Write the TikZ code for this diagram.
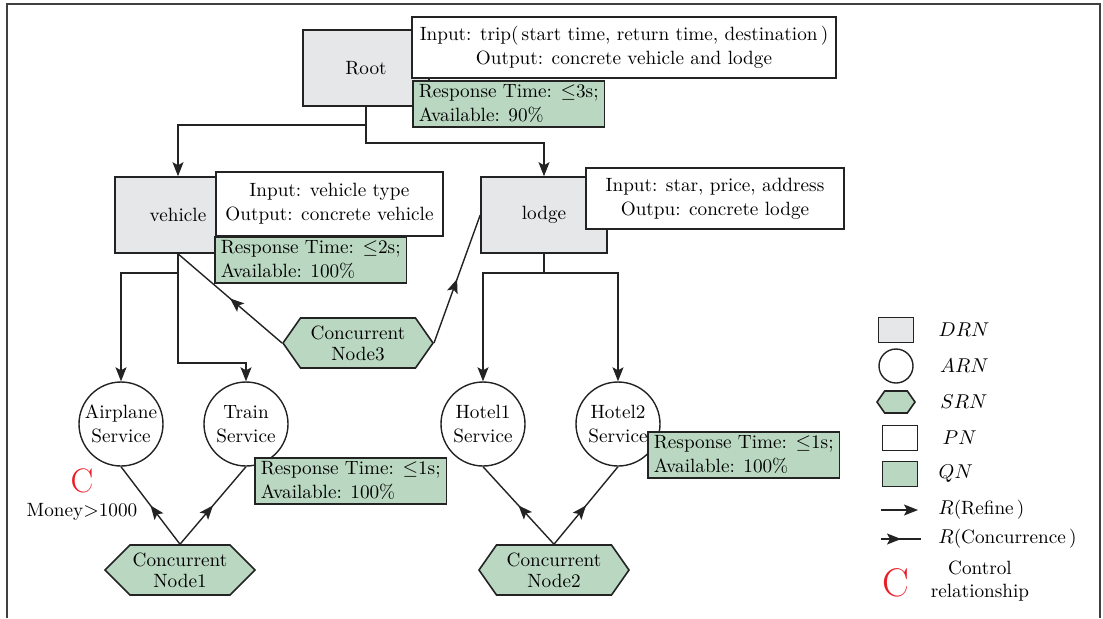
\documentclass[tikz,border=0pt]{standalone}
\usepackage{tikz}
\usetikzlibrary{calc, positioning, shapes.symbols, arrows.meta, decorations.markings}
\usepackage{amsmath}
\usepackage{amssymb}
\definecolor{drngray}{RGB}{230,231,233}
\definecolor{qngreen}{RGB}{186,216,193}
\definecolor{ctrlred}{RGB}{235,30,40}
\definecolor{edge}{RGB}{35,35,35}
\tikzstyle{drn}    = [rectangle, minimum width=63pt, minimum height=38pt, inner sep=0pt, draw=edge, fill=drngray, line width=0.8pt]
\tikzstyle{arn}    = [circle, minimum size=42pt, inner sep=0pt, draw=edge, fill=white, line width=0.7pt, align=center]
\tikzstyle{srn}    = [signal, signal to=west and east, signal pointer angle=110, minimum width=75pt, minimum height=25pt, inner sep=0pt, draw=edge, fill=qngreen, line width=0.8pt, align=center, font=\fontsize{9.6}{10.5}\selectfont]
\tikzstyle{pn}     = [rectangle, inner sep=0pt, draw=edge, fill=white, line width=0.8pt, align=center]
\tikzstyle{qn}     = [rectangle, inner xsep=3pt, inner ysep=2pt, draw=edge, fill=qngreen, line width=0.8pt, align=left, anchor=north west]
\tikzstyle{ctrl}   = [inner sep=0pt, text=ctrlred]
\tikzstyle{lgtext} = [inner sep=0pt]
\tikzstyle{arrow}  = [line width=0.7pt, draw=edge, -{Stealth[length=7pt, width=5.5pt, inset=1.5pt]}]
\tikzstyle{conc}   = [line width=0.7pt, draw=edge, postaction={decorate}, decoration={markings, mark=at position .5 with {\arrow{Stealth[length=7pt, width=5.5pt, inset=1.5pt]}}}]

\begin{document}
\begin{tikzpicture}[x=0.5pt, y=-0.5pt, node distance=18pt, every node/.append style={font=\fontsize{9.6}{12}\selectfont}]
      \useasboundingbox (0,0) rectangle (1103,618);
      \draw [line width=1.1pt, black!75] (7,618) -- (7,4) -- (1100,4) -- (1100,618);

      % decomposition nodes
      \node (root)    [drn] at (366,68)  {Root};
      \node (vehicle) [drn] at (178,215) {vehicle};
      \node (lodge)   [drn] at (544,215) {lodge};

      % atomic nodes
      \node (air)    [arn] at (121,424) {Airplane\\Service};
      \node (train)  [arn] at (246,424) {Train\\Service};
      \node (hotel1) [arn] at (483,424) {Hotel1\\Service};
      \node (hotel2) [arn] at (618,424) {Hotel2\\Service};

      % concurrent nodes
      \node (node1) [srn, signal pointer angle=90] at (180,570) {Concurrent\\Node1};
      \node (node2) [srn] at (554,570) {Concurrent\\Node2};
      \node (node3) [srn] at (358,343) {Concurrent\\Node3};

      \draw [arrow] (root.south) -- ++(0,18) -| (vehicle.north);
      \draw [arrow] (root.south) -- ++(0,36) -| (lodge.north);
      \draw [arrow] (vehicle.south) -- ++(0,19) -| (air.north);
      \draw [arrow] (vehicle.south) -- ++(0,109) -| (train.north);
      \draw [arrow] (lodge.south) -- ++(0,19) -| (hotel1.north);
      \draw [arrow] (lodge.south) -- ++(0,19) -| (hotel2.north);

      \draw [conc] (node3.west) -- (vehicle.south);
      \draw [conc] (node3.east) -- (lodge.west);
      \draw [conc] (node1.north) -- (air.south);
      \draw [conc] (node1.north) -- (train.south);
      \draw [conc] (node2.north) -- (hotel1.south);
      \draw [conc] (node2.north) -- (hotel2.south);

      % parameters and QoS
      \node (rootpn)    [pn, minimum width=212pt, minimum height=30.5pt] at (624,47.5)
            {Input: trip(\,start time, return time, destination\,)\\Output: concrete vehicle and lodge};
      \node (vehiclepn) [pn, minimum width=113.5pt, minimum height=32pt] at (329.5,204)
            {Input: vehicle type\\Output: concrete vehicle};
      \node (lodgepn)   [pn, minimum width=129pt, minimum height=30.5pt] at (715,198.5)
            {Input: star, price, address\\Outpu: concrete lodge};
      \node (rootqn)    [qn] at (412,80)  {Response Time: $\leq$3s;\\Available: 90\%};
      \node (vehicleqn) [qn] at (214,236) {Response Time: $\leq$2s;\\Available: 100\%};
      \node (trainqn)   [qn] at (254,457) {Response Time: $\leq$1s;\\Available: 100\%};
      \node (hotel2qn)  [qn] at (647,431) {Response Time: $\leq$1s;\\Available: 100\%};

      % control relationship
      \node (ctrlc) [ctrl, font=\fontsize{17}{17}\selectfont] at (82,481) {C};
      \node (money) [lgtext] at (82,512) {Money$>$1000};

      % legend
      \node (lgdrn) [drn, minimum width=17.5pt, minimum height=12.5pt] at (896,330) {};
      \node (lgarn) [arn, minimum size=17pt, below of=lgdrn] {};
      \node (lgsrn) [srn, minimum width=19pt, minimum height=11pt, below of=lgarn] {};
      \node (lgpn)  [pn, minimum width=17.5pt, minimum height=12.5pt, below of=lgsrn, xshift=2pt] {};
      \node (lgqn)  [qn, anchor=center, inner sep=0pt, minimum width=17.5pt, minimum height=12.5pt, below of=lgpn] {};
      \node (tdrn)  [lgtext, right=12pt of lgdrn] {$DRN$};
      \node (tarn)  [lgtext, right=13pt of lgarn] {$ARN$};
      \node (tsrn)  [lgtext, right=12pt of lgsrn] {$SRN$};
      \node (tpn)   [lgtext, right=12pt of lgpn]  {$PN$};
      \node (tqn)   [lgtext, right=10pt of lgqn]  {$QN$};

      \coordinate (rfa) at (881,510);
      \coordinate (rfb) at (918,510);
      \coordinate (cca) at (881,539);
      \coordinate (ccb) at (921,539);
      \draw [arrow] (rfa) -- (rfb);
      \draw [conc]  (cca) -- (ccb);
      \node (trf) [lgtext, right=10pt of rfb]  {$R$(Refine\,)};
      \node (tcc) [lgtext, right=8.5pt of ccb] {$R$(Concurrence\,)};

      \node (lgc)   [ctrl, font=\fontsize{20}{20}\selectfont] at (896,583) {C};
      \node (tctrl) [lgtext, align=center, font=\fontsize{9.6}{11.5}\selectfont] at (980,581) {Control\\relationship};

    \end{tikzpicture}
\end{document}
